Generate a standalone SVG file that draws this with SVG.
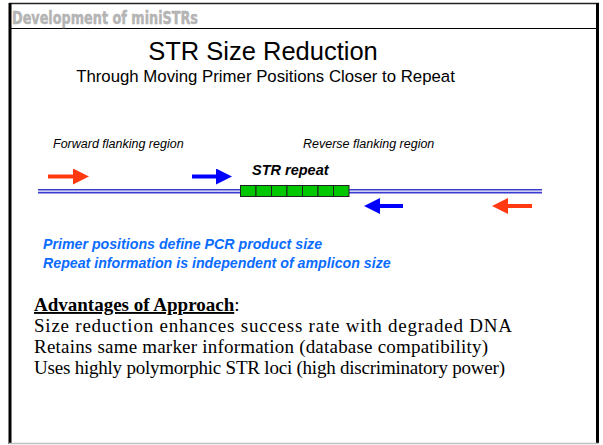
<svg xmlns="http://www.w3.org/2000/svg" width="603" height="445" viewBox="0 0 603 445">
<style>
.hdr{font-family:"Liberation Sans Narrow","DejaVu Sans Condensed","Liberation Sans",sans-serif;font-weight:bold;fill:#b4b4b4;stroke:#b4b4b4;stroke-width:0.5;font-size:18px}
.sans{font-family:"Liberation Sans",Arial,sans-serif;fill:#000}
.flank{font-family:"Liberation Sans",Arial,sans-serif;font-style:italic;font-size:12.5px;fill:#000}
.blue{font-family:"Liberation Sans",Arial,sans-serif;font-style:italic;font-weight:bold;font-size:14.2px;fill:#0a6cff}
.serif{font-family:"Liberation Serif","Times New Roman",serif;font-size:19px;fill:#000}
.dna{stroke:#3a3ad0;stroke-width:1.6;fill:none}
.cell{fill:#00c800;stroke:#222;stroke-width:1}
</style>
<defs>
<marker id="ahR" markerWidth="4" markerHeight="4" refX="0" refY="2" orient="auto" markerUnits="strokeWidth"><path d="M0,0 L4,2 L0,4 Z" fill="#ff3a10"/></marker>
<marker id="ahB" markerWidth="4" markerHeight="4" refX="0" refY="2" orient="auto" markerUnits="strokeWidth"><path d="M0,0 L4,2 L0,4 Z" fill="#0000ff"/></marker>
</defs>
<rect x="0" y="0" width="603" height="445" fill="#fff"/>
<g id="frame">
<line x1="9" y1="3.5" x2="599" y2="3.5" stroke="#222" stroke-width="1.5"/>
<line x1="10" y1="3" x2="10" y2="444" stroke="#000" stroke-width="3"/>
<line x1="597.5" y1="3" x2="597.5" y2="444" stroke="#000" stroke-width="3"/>
<line x1="9" y1="28.5" x2="599" y2="28.5" stroke="#000" stroke-width="1"/>
<line x1="9" y1="443.5" x2="599" y2="443.5" stroke="#c0c0c0" stroke-width="1.5"/>
</g>
<g id="header"><text class="hdr" x="12" y="24" textLength="186" lengthAdjust="spacingAndGlyphs">Development of miniSTRs</text></g>
<g id="title">
<text class="sans" x="263" y="60" font-size="25.5" text-anchor="middle">STR Size Reduction</text>
<text class="sans" x="265.5" y="82" font-size="16.8" text-anchor="middle">Through Moving Primer Positions Closer to Repeat</text>
</g>
<g id="labels">
<text class="flank" x="53" y="148">Forward flanking region</text>
<text class="flank" x="303" y="148">Reverse flanking region</text>
<text class="sans" x="252" y="175" font-size="14.5" font-weight="bold" font-style="italic">STR repeat</text>
</g>
<g id="dna">
<line class="dna" x1="38" y1="189.8" x2="240" y2="189.8"/>
<line class="dna" x1="38" y1="192.6" x2="240" y2="192.6"/>
<line class="dna" x1="349" y1="189.8" x2="542" y2="189.8"/>
<line class="dna" x1="349" y1="192.6" x2="542" y2="192.6"/>
</g>
<g id="str-repeat">
<rect class="cell" x="240.5" y="185.5" width="15.5" height="11"/>
<rect class="cell" x="256" y="185.5" width="15.5" height="11"/>
<rect class="cell" x="271.5" y="185.5" width="15.5" height="11"/>
<rect class="cell" x="287" y="185.5" width="15.5" height="11"/>
<rect class="cell" x="302.5" y="185.5" width="15.5" height="11"/>
<rect class="cell" x="318" y="185.5" width="15.5" height="11"/>
<rect class="cell" x="333.5" y="185.5" width="15.5" height="11"/>
</g>
<g id="primers">
<line x1="48" y1="176.5" x2="73" y2="176.5" stroke="#ff3a10" stroke-width="4" marker-end="url(#ahR)"/>
<line x1="192" y1="176.5" x2="216" y2="176.5" stroke="#0000ff" stroke-width="4" marker-end="url(#ahB)"/>
<line x1="403" y1="206" x2="380" y2="206" stroke="#0000ff" stroke-width="4" marker-end="url(#ahB)"/>
<line x1="532" y1="206" x2="508" y2="206" stroke="#ff3a10" stroke-width="4" marker-end="url(#ahR)"/>
</g>
<g id="notes">
<text class="blue" x="43" y="249">Primer positions define PCR product size</text>
<text class="blue" x="43" y="268">Repeat information is independent of amplicon size</text>
</g>
<g id="advantages">
<text class="serif" x="34" y="311" font-size="17.8"><tspan font-weight="bold" text-decoration="underline">Advantages of Approach</tspan>:</text>
<text class="serif" x="34" y="332" textLength="478" lengthAdjust="spacing">Size reduction enhances success rate with degraded DNA</text>
<text class="serif" x="34" y="353" textLength="454" lengthAdjust="spacing">Retains same marker information (database compatibility)</text>
<text class="serif" x="34" y="374" textLength="471" lengthAdjust="spacing">Uses highly polymorphic STR loci (high discriminatory power)</text>
</g>
</svg>
